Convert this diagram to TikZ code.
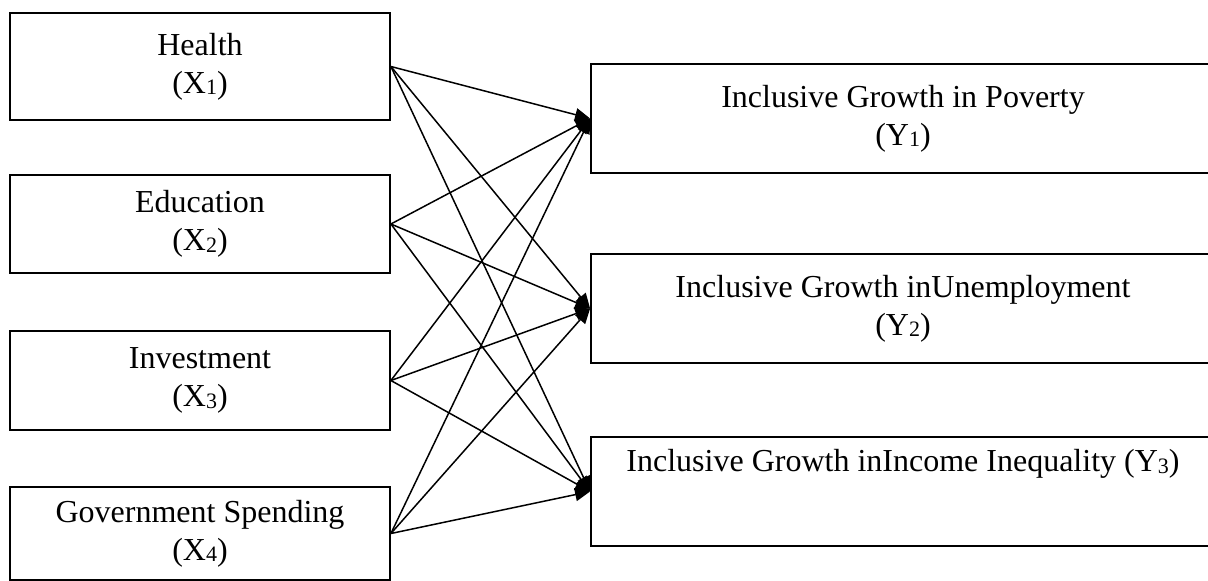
\documentclass[tikz,border=0pt]{standalone}
\usepackage{fontspec}
\setmainfont{Liberation Serif}
\usetikzlibrary{arrows.meta}
\newcommand{\mysub}[1]{\raisebox{-1.5pt}{\fontsize{22}{22}\selectfont #1}}
\begin{document}
\begin{tikzpicture}[x=1pt,y=-1pt,
  lbox/.style={draw, line width=1.8pt, minimum width=380pt, minimum height=#1, inner sep=0pt, align=center, font=\fontsize{32}{38}\selectfont},
  rbox/.style={draw, line width=1.8pt, minimum width=624pt, minimum height=109pt, inner sep=0pt, align=center, font=\fontsize{32}{38}\selectfont},
  txt/.style={inner sep=0pt, align=center, font=\fontsize{32}{38}\selectfont},
  conn/.style={line width=1.5pt, -{Triangle[length=15pt,width=13pt]}}]
\useasboundingbox (0,0) rectangle (1208,581);
\node[lbox=107pt] (X1) at (200,66.5) {Health\\(X\mysub{1})};
\node[lbox=98pt] (X2) at (200,224) {Education\\(X\mysub{2})};
\node[lbox=99pt] (X3) at (200,380.5) {Investment\\(X\mysub{3})};
\node[lbox=93pt] (X4) at (200,533.5) {Government Spending\\(X\mysub{4})};
\node[rbox] (Y1) at (903,118.5) {Inclusive Growth in Poverty\\(Y\mysub{1})};
\node[rbox] (Y2) at (903,308.5) {Inclusive Growth inUnemployment\\(Y\mysub{2})};
\node[rbox] (Y3) at (903,491.5) {};
\node[txt] (Y3t) at (903,464) {Inclusive Growth inIncome Inequality (Y\mysub{3})};
\foreach \i in {1,2,3,4}{
  \foreach \j in {1,2,3}{
    \draw[conn] (X\i.east) -- (Y\j.west);
  }
}
\end{tikzpicture}
\end{document}
